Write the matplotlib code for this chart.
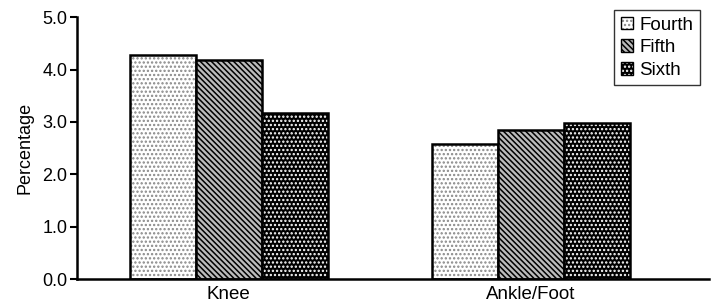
import numpy as np
import matplotlib
matplotlib.use("Agg")
import matplotlib.pyplot as plt

plt.rcParams['font.family'] = ['Liberation Sans', 'DejaVu Sans']
plt.rcParams['hatch.linewidth'] = 1.1

# data
categories = ['Knee', 'Ankle/Foot']
series = ['Fourth', 'Fifth', 'Sixth']
fourth = [4.27, 2.58]
fifth = [4.18, 2.85]
sixth = [3.17, 2.98]
values = [fourth, fifth, sixth]
yticks = [0.0, 1.0, 2.0, 3.0, 4.0, 5.0]

# fill colour, hatch colour, hatch pattern
styles = [('white', '#888888', '....'),
          ('#bbbbbb', 'black', '\\\\\\\\\\\\'),
          ('black', 'white', '....')]

fig = plt.figure(figsize=(7.13, 3.06), dpi=100)
ax = fig.add_axes([0.108, 0.088, 0.886, 0.856])

x = np.arange(len(categories))
w = 0.2185
handles = []
for i, (name, vals) in enumerate(zip(series, values)):
    fc, hc, hatch = styles[i]
    pos = x + (i - 1) * w
    ax.bar(pos, vals, w, color=fc, edgecolor=hc, hatch=hatch, linewidth=0)
    ax.bar(pos, vals, w, fill=False, edgecolor='black', linewidth=1.8)
    fill = plt.Rectangle((0, 0), 1, 1, facecolor=fc, edgecolor=hc,
                         hatch=hatch, linewidth=0)
    edge = plt.Rectangle((0, 0), 1, 1, fill=False, edgecolor='black',
                         linewidth=1.0)
    handles.append((fill, edge))

ax.set_xlim(-0.503, 1.59)
ax.set_ylim(0, 5.0)
ax.set_yticks(yticks)
ax.set_yticklabels([f'{t:.1f}' for t in yticks], fontsize=13)
ax.set_xticks(x)
ax.set_xticklabels(categories, fontsize=13.5)
ax.tick_params(axis='x', length=0, pad=5)
ax.tick_params(axis='y', length=5, width=1.5, direction='out', pad=2)
ax.set_ylabel('Percentage', fontsize=13, labelpad=6)
for s in ['top', 'right']:
    ax.spines[s].set_visible(False)
for s in ['left', 'bottom']:
    ax.spines[s].set_linewidth(1.8)

leg = ax.legend(handles, series, loc='upper right', bbox_to_anchor=(0.986, 1.027),
                fontsize=13.5, frameon=True, fancybox=False, handlelength=0.65,
                handleheight=0.65, handletextpad=0.35, borderpad=0.35,
                labelspacing=0.3, borderaxespad=0)
leg.get_frame().set_edgecolor('black')
leg.get_frame().set_linewidth(1.0)

fig.savefig('out.png', dpi=100)
